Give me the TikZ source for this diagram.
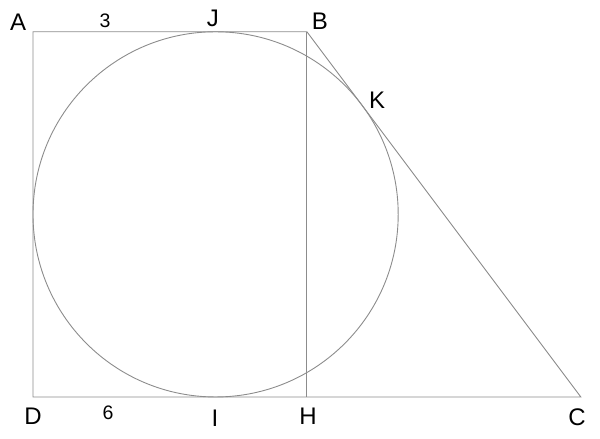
\documentclass[tikz,border=0pt]{standalone}
\usepackage{fontspec}
\setmainfont{Liberation Sans}
\definecolor{edgegray}{RGB}{140,140,140}
\begin{document}
\begin{tikzpicture}[x=91.3pt,y=91.3pt,
    side/.style={draw=edgegray, line width=.9pt},
    pt/.style={font=\fontsize{24}{26}\selectfont},
    len/.style={font=\fontsize{19.5}{21}\selectfont}]
        \useasboundingbox (-0.3614,-0.46) rectangle (6.2103,4.348);
        \coordinate (D) at (0,0);
        \coordinate (A) at (0,4);
        \coordinate (B) at (3,4);
        \coordinate (C) at (6,0);
        \coordinate (H) at (3,0);
        \coordinate (O) at (2,2);
        \draw[side] (A)--(B)--(C)--(D)--cycle;
        \draw[side] (B)--(H);
        \draw[side] (O) circle (2);
        \node[pt] (lA) at (-0.164,4.107) {A};
        \node[len] (lAB) at (0.789,4.122) {3};
        \node[pt] (lJ) at (1.971,4.146) {J};
        \node[pt] (lB) at (3.143,4.118) {B};
        \node[pt] (lK) at (3.768,3.253) {K};
        \node[pt] (lD) at (0,-0.208) {D};
        \node[len] (lDC) at (0.821,-0.175) {6};
        \node[pt] (lI) at (1.993,-0.230) {I};
        \node[pt] (lH) at (3.012,-0.208) {H};
        \node[pt] (lC) at (5.958,-0.219) {C};
\end{tikzpicture}
\end{document}
